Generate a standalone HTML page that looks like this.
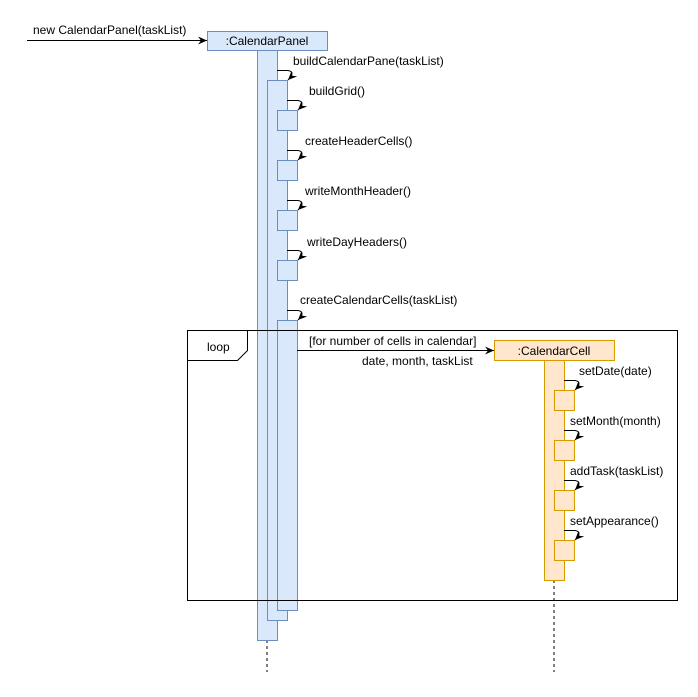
<!DOCTYPE html>
<html><head><style>
body{margin:0;background:#fff;}
svg text{font-family:"Liberation Sans",Arial,sans-serif;font-size:12px;fill:#000;}
</style></head><body>
<svg width="698" height="692" xmlns="http://www.w3.org/2000/svg">
<defs>
<marker id="a" markerWidth="10" markerHeight="8" refX="9" refY="4" orient="auto" markerUnits="userSpaceOnUse"><path d="M0,0 L9,4 L0,8 L3,4 Z" fill="#000"/></marker>
</defs>
<g fill="none" stroke="#000" stroke-dasharray="3,3">
<line x1="267" y1="640" x2="267" y2="672"/>
<line x1="554" y1="580" x2="554" y2="672"/>
</g>
<g fill="#dae8fc" stroke="#6c8ebf">
<rect x="207.5" y="31.5" width="120" height="19"/>
<rect x="257.5" y="50.5" width="20" height="590"/>
<rect x="267.5" y="80.5" width="20" height="540"/>
<rect x="277.5" y="110.5" width="20" height="20"/>
<rect x="277.5" y="160.5" width="20" height="20"/>
<rect x="277.5" y="210.5" width="20" height="20"/>
<rect x="277.5" y="260.5" width="20" height="20"/>
<rect x="277.5" y="320.5" width="20" height="290"/>
</g>
<g fill="#ffe6cc" stroke="#d79b00">
<rect x="494.5" y="340.5" width="120" height="20"/>
<rect x="544.5" y="360.5" width="20" height="220"/>
<rect x="554.5" y="390.5" width="20" height="20"/>
<rect x="554.5" y="440.5" width="20" height="20"/>
<rect x="554.5" y="490.5" width="20" height="20"/>
<rect x="554.5" y="540.5" width="20" height="20"/>
</g>
<rect x="187.5" y="330.5" width="490" height="270" fill="none" stroke="#000"/>
<path d="M187.5,360.5 L237.5,360.5 L247.5,350.5 L247.5,330.5" fill="none" stroke="#000"/>
<text x="207" y="351">loop</text>
<g fill="none" stroke="#000" marker-end="url(#a)">
<line x1="27" y1="40.5" x2="207" y2="40.5"/>
<line x1="297" y1="350.5" x2="494" y2="350.5"/>
<path d="M277,70.5 L288,70.5 Q296,72 288,80"/>
<path d="M287,100.5 L298,100.5 Q306,102 298,110"/>
<path d="M287,150.5 L298,150.5 Q306,152 298,160"/>
<path d="M287,200.5 L298,200.5 Q306,202 298,210"/>
<path d="M287,250.5 L298,250.5 Q306,252 298,260"/>
<path d="M287,310.5 L298,310.5 Q306,312 298,320"/>
<path d="M564,380.5 L575,380.5 Q583,382 575,390"/>
<path d="M564,430.5 L575,430.5 Q583,432 575,440"/>
<path d="M564,480.5 L575,480.5 Q583,482 575,490"/>
<path d="M564,530.5 L575,530.5 Q583,532 575,540"/>
</g>
<text x="33" y="34">new CalendarPanel(taskList)</text>
<text x="267" y="45" text-anchor="middle">:CalendarPanel</text>
<text x="293" y="65">buildCalendarPane(taskList)</text>
<text x="309" y="95">buildGrid()</text>
<text x="305" y="145">createHeaderCells()</text>
<text x="305" y="195">writeMonthHeader()</text>
<text x="307" y="246">writeDayHeaders()</text>
<text x="300" y="304">createCalendarCells(taskList)</text>
<text x="309" y="345">[for number of cells in calendar]</text>
<text x="362" y="365">date, month, taskList</text>
<text x="554" y="355" text-anchor="middle">:CalendarCell</text>
<text x="579" y="375">setDate(date)</text>
<text x="570" y="425">setMonth(month)</text>
<text x="570" y="475">addTask(taskList)</text>
<text x="570" y="525">setAppearance()</text>
</svg>
</body></html>
